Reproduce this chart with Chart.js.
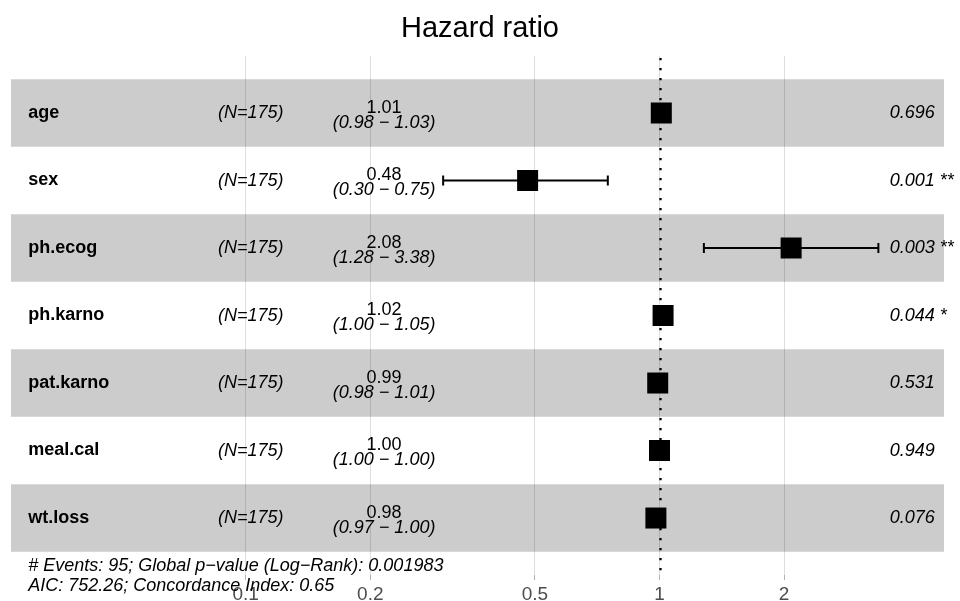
<!DOCTYPE html>
<html>
<head>
<meta charset="utf-8">
<script src="https://cdn.jsdelivr.net/npm/chart.js@4.4.1/dist/chart.umd.min.js"></script>
<style>
  html, body { margin: 0; padding: 0; background: #fff; }
  #wrap { position: relative; width: 960px; height: 601px; }
</style>
</head>
<body>
<div id="wrap"><canvas id="forest"></canvas></div>
<script>
// Cox model hazard ratios, one row per covariate
const variables = ['age', 'sex', 'ph.ecog', 'ph.karno', 'pat.karno', 'meal.cal', 'wt.loss'];
const nObs      = [175, 175, 175, 175, 175, 175, 175];
const hazard    = [1.01, 0.48, 2.08, 1.02, 0.99, 1.00, 0.98];
const ciLow     = [0.98, 0.30, 1.28, 1.00, 0.98, 1.00, 0.97];
const ciHigh    = [1.03, 0.75, 3.38, 1.05, 1.01, 1.00, 1.00];
const pValues   = ['0.696', '0.001', '0.003', '0.044', '0.531', '0.949', '0.076'];
const stars     = ['', '**', '**', '*', '', '', ''];
const xTicks    = [0.1, 0.2, 0.5, 1, 2];
const footnote  = [
    '# Events: 95; Global p\u2212value (Log\u2212Rank): 0.001983',
    'AIC: 752.26; Concordance Index: 0.65'
];

const FONT = '"Liberation Sans", Arial, sans-serif';
Chart.defaults.font.family = FONT;

// x range of the panel (log scale) and where the table columns sit on it
const X_MIN = 0.02548, X_MAX = 5.323;
const BAND_X = [0.02709, 4.87];
const COL = { name: 0.0298, n: 0.0857, est: 0.216, p: 3.6 };
const fmt = v => v.toFixed(2);

// Alternating bands, dotted reference line and the text table
const forestDecor = {
    id: 'forestDecor',
    beforeDatasetsDraw(chart) {
        const { ctx, scales: { x, y } } = chart;
        ctx.save();
        ctx.fillStyle = 'rgba(0,0,0,0.2)';
        const x0 = x.getPixelForValue(BAND_X[0]);
        const x1 = x.getPixelForValue(BAND_X[1]);
        variables.forEach((v, i) => {
            if (i % 2 !== 0) return;
            const top = y.getPixelForValue(i + 0.5);
            const bot = y.getPixelForValue(i + 1.5);
            ctx.fillRect(x0, top, x1 - x0, bot - top);
        });
        ctx.restore();
    },
    afterDatasetsDraw(chart) {
        const { ctx, chartArea, scales: { x, y } } = chart;
        ctx.save();
        // reference line at HR = 1
        const xr = Math.round(x.getPixelForValue(1)) + 0.5;
        ctx.strokeStyle = '#000';
        ctx.lineWidth = 2.3;
        ctx.setLineDash([2.3, 7.7]);
        ctx.beginPath();
        ctx.moveTo(xr, chartArea.top + 2);
        ctx.lineTo(xr, chartArea.bottom);
        ctx.stroke();
        ctx.setLineDash([]);

        ctx.fillStyle = '#000';
        variables.forEach((v, i) => {
            const cy = y.getPixelForValue(i + 1);
            ctx.textBaseline = 'middle';
            ctx.textAlign = 'left';
            ctx.font = 'bold 18px ' + FONT;
            ctx.fillText(v, x.getPixelForValue(COL.name), cy);
            ctx.font = 'italic 18px ' + FONT;
            ctx.fillText('(N=' + nObs[i] + ')', x.getPixelForValue(COL.n), cy);
            ctx.fillText(pValues[i] + (stars[i] ? ' ' + stars[i] : ''), x.getPixelForValue(COL.p), cy);

            ctx.textAlign = 'center';
            ctx.textBaseline = 'alphabetic';
            const ex = x.getPixelForValue(COL.est);
            ctx.font = '18px ' + FONT;
            ctx.fillText(fmt(hazard[i]), ex, cy - 0.3);
            ctx.font = 'italic 18px ' + FONT;
            ctx.fillText('(' + fmt(ciLow[i]) + ' \u2212 ' + fmt(ciHigh[i]) + ')', ex, cy + 14.7);
        });

        ctx.restore();
    },
    afterDraw(chart) {
        const { ctx, scales: { x } } = chart;
        ctx.save();
        ctx.fillStyle = '#000';
        ctx.font = 'italic 18px ' + FONT;
        ctx.textAlign = 'left';
        ctx.textBaseline = 'alphabetic';
        footnote.forEach((line, k) => {
            ctx.fillText(line, x.getPixelForValue(COL.name), 571 + k * 20);
        });
        ctx.restore();
    }
};

// error bars, one small dataset per row
const ciSets = variables.map((v, i) => ({
    data: [{ x: ciLow[i], y: i + 1 }, { x: ciHigh[i], y: i + 1 }],
    showLine: true,
    borderColor: '#000',
    borderWidth: 2,
    pointStyle: 'line',
    rotation: 90,
    pointRadius: 5,
    pointBorderWidth: 2,
    pointBorderColor: '#000',
    order: 1
}));

new Chart(document.getElementById('forest'), {
    type: 'scatter',
    data: {
        datasets: [
            {
                data: hazard.map((v, i) => ({ x: v, y: i + 1 })),
                pointStyle: 'rect',
                pointRadius: 14.85,
                backgroundColor: '#000',
                borderWidth: 0,
                order: 0
            },
            ...ciSets
        ]
    },
    options: {
        responsive: true,
        maintainAspectRatio: false,
        animation: false,
        events: [],
        layout: { padding: 0, autoPadding: false },
        plugins: {
            legend: { display: false },
            tooltip: { enabled: false },
            title: {
                display: true,
                text: 'Hazard ratio',
                color: '#000',
                font: { size: 29, weight: 'normal', lineHeight: 1.2 },
                padding: { top: 11.2, bottom: 10 }
            }
        },
        scales: {
            x: {
                type: 'logarithmic',
                position: 'bottom',
                min: X_MIN,
                max: X_MAX,
                bounds: 'data',
                afterBuildTicks: scale => { scale.ticks = xTicks.map(v => ({ value: v })); },
                afterFit: scale => {
                    scale.height = 26;
                    scale.paddingLeft = 0;
                    scale.paddingRight = 0;
                },
                border: { display: false },
                grid: {
                    color: '#DEDEDE',
                    lineWidth: 1,
                    drawTicks: true,
                    tickLength: 5,
                    tickColor: '#B3B3B3',
                    tickWidth: 1
                },
                ticks: {
                    callback: v => String(v),
                    autoSkip: false,
                    maxRotation: 0,
                    color: '#4D4D4D',
                    padding: 3,
                    font: { size: 19 }
                }
            },
            y: {
                type: 'linear',
                display: false,
                reverse: true,
                min: 0.1556,
                max: 7.844
            }
        }
    },
    plugins: [forestDecor]
});
</script>
</body>
</html>
